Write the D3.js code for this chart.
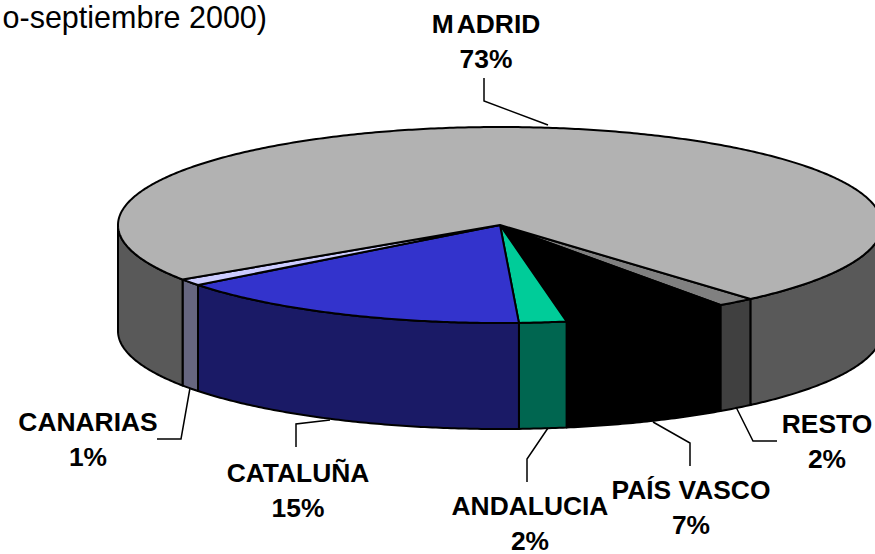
<!DOCTYPE html>
<html><head><meta charset="utf-8">
<script src="https://cdn.jsdelivr.net/npm/d3@7/dist/d3.min.js"></script>
<style>html,body{margin:0;padding:0;background:#fff;overflow:hidden}svg{display:block}</style>
</head><body><svg id="c" width="875" height="554"></svg>
<script>
const categories = ["RESTO","PAÍS VASCO","ANDALUCIA","CATALUÑA","CANARIAS","MADRID"];
const values = [1.6,7.0,2.0,15.3,1.1,73.0];
const percentLabels = ["2%","7%","2%","15%","1%","73%"];
const topColors = ["#808080","#000000","#00CC99","#3333CC","#CCCCFF","#B2B2B2"];
const sideColors = ["#404040","#000000","#006650","#1A1A66","#666680","#595959"];
const titleText = "o-septiembre 2000)";
// label anchor [x, first line baseline], leader polylines
const labelPos = [[827,433],[691,499],[530,515],[298,482],[88,431],[486,33]];
const leaders = [
 [[736,407],[753,441],[777,441]],
 [[653,422],[690,443],[690,466]],
 [[548,428],[527,459],[527,482]],
 [[330,420],[296,424],[296,447]],
 [[190,388],[181,439],[157,439]],
 [[548,125],[484,101],[484,78]]
];
const svg = d3.select("#c");
const x = d3.scaleLinear().domain([-1,1]).range([118,882]);
const y = d3.scaleLinear().domain([-1,1]).range([127,323]);
const depth = 106;
const pie = d3.pie().sort(null).startAngle(139*Math.PI/180).endAngle((139+360)*Math.PI/180);
const arcs = pie(values);
const line = d3.line().x(d=>d[0]).y(d=>d[1]);
const pt = (a,dy=0)=>[x(Math.sin(a)),y(-Math.cos(a))+dy];
const rim = (a0,a1)=>{const n=Math.max(2,Math.ceil((a1-a0)/0.01));
  return d3.range(n+1).map(i=>a0+(a1-a0)*i/n);};
const PI=Math.PI;
function visible(a0,a1){
  const out=[];
  for(const k of [0,1]){
    const lo=Math.max(a0,PI/2+2*PI*k), hi=Math.min(a1,3*PI/2+2*PI*k);
    if(hi>lo) out.push([lo,hi]);
  }
  return out;
}
const g=svg.append("g").attr("stroke-linejoin","round");
arcs.forEach((d,i)=>{
  visible(d.startAngle,d.endAngle).forEach(([lo,hi])=>{
    const r=rim(lo,hi);
    const pts=r.map(a=>pt(a)).concat(r.slice().reverse().map(a=>pt(a,depth)));
    g.append("path").attr("d",line(pts)+"Z").attr("fill",sideColors[i])
     .attr("stroke","#000").attr("stroke-width",2);
  });
});
arcs.forEach((d,i)=>{
  const pts=[[x(0),y(0)]].concat(rim(d.startAngle,d.endAngle).map(a=>pt(a)));
  g.append("path").attr("d",line(pts)+"Z").attr("fill",topColors[i])
   .attr("stroke","#000").attr("stroke-width",2);
});
svg.append("g").selectAll("path").data(leaders).join("path")
  .attr("d",d=>line(d)).attr("fill","none").attr("stroke","#000").attr("stroke-width",1.5);
const font="'Liberation Sans',Arial,sans-serif";
const t=svg.append("g").attr("font-family",font).attr("font-weight","bold").attr("font-size",26.4)
  .attr("fill","#000").attr("text-anchor","middle");
categories.forEach((c,i)=>{
  const [lx,ly]=labelPos[i];
  const el=t.append("text").attr("x",lx).attr("y",ly);
  if(c==="MADRID"){ el.append("tspan").text(c[0]); el.append("tspan").attr("dx",3).text(c.slice(1)); }
  else el.text(c);
  t.append("text").attr("x",lx).attr("y",ly+34.5).text(percentLabels[i]);
});
svg.append("text").attr("x",267).attr("y",28).attr("text-anchor","end")
  .attr("font-family",font).attr("font-size",30.5).attr("fill","#000").text(titleText);
</script></body></html>
